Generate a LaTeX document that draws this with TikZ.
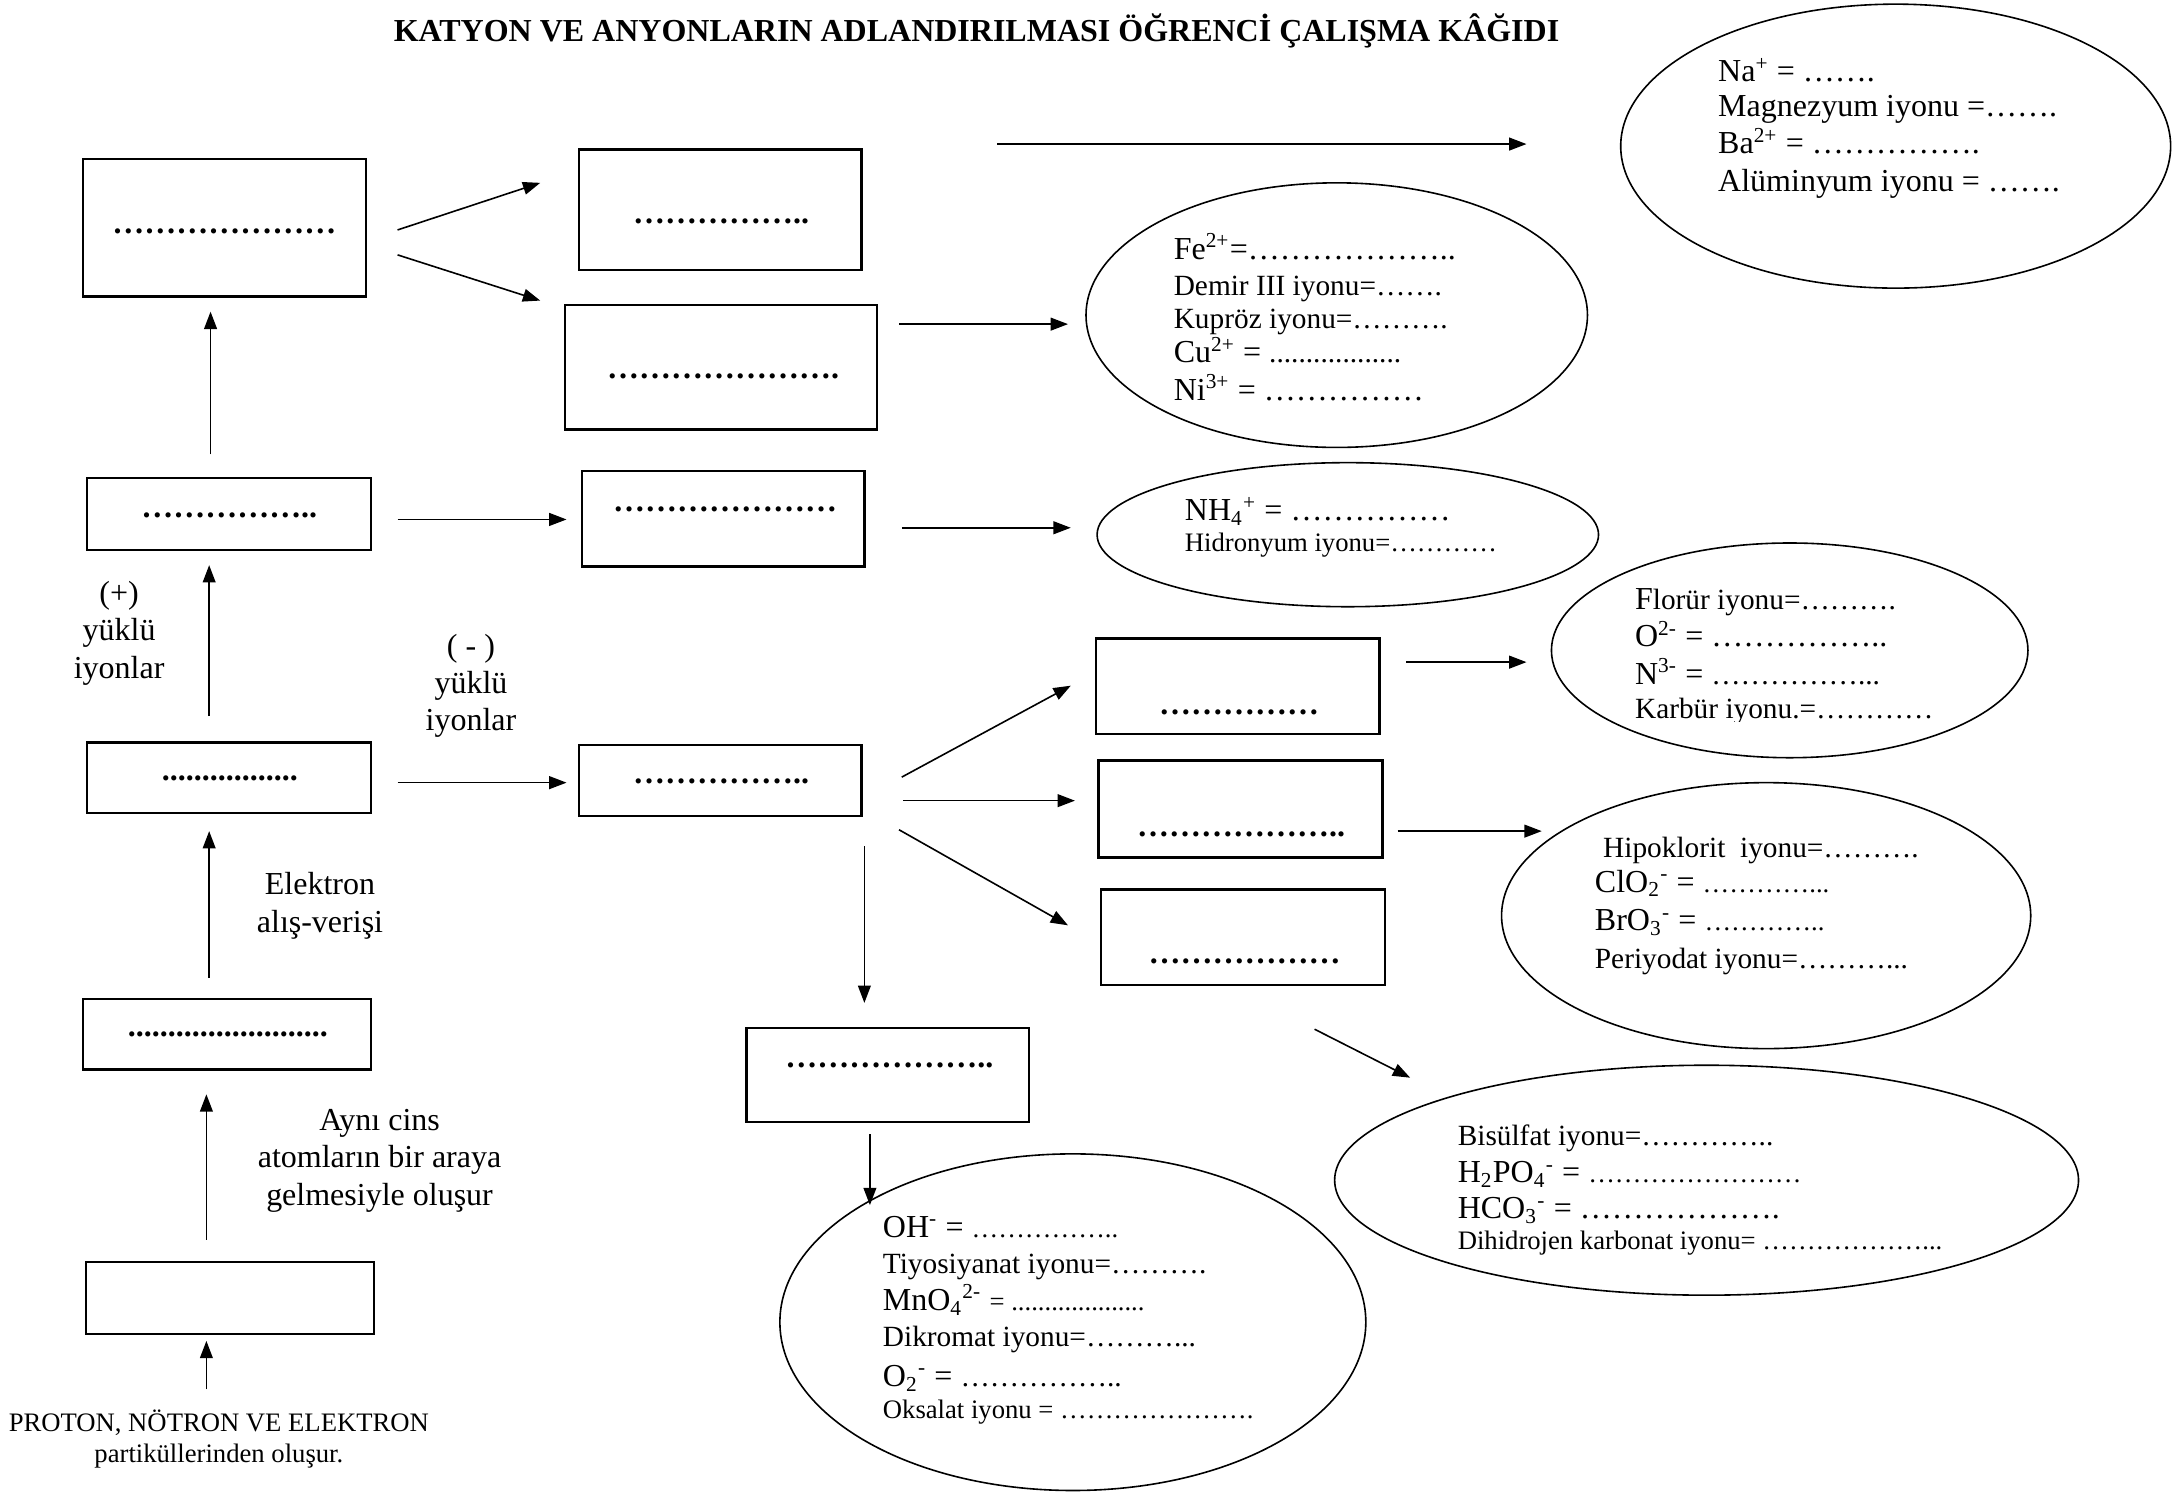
\documentclass[tikz,border=0pt]{standalone}
\usepackage{fontspec}
\setmainfont{Liberation Serif}
\usetikzlibrary{arrows.meta,shapes.geometric}
\newcommand\pxu{0.5195pt}
\newcommand\szL{\fontsize{12}{14}\selectfont}
\newcommand\szM{\fontsize{11}{13}\selectfont}
\newcommand\szS{\fontsize{10}{11.5}\selectfont}
\newcount\elpcnt
\newcommand\elps[1]{\elpcnt=#1\relax\elpsloop}
\newcommand\elpsloop{\ifnum\elpcnt>0 …\advance\elpcnt by -1\relax\expandafter\elpsloop\fi}
\newcommand\pds[1]{\elpcnt=#1\relax\pdsloop}
\newcommand\pdsloop{\ifnum\elpcnt>0 .\advance\elpcnt by -1\relax\expandafter\pdsloop\fi}
\begin{document}
\begin{tikzpicture}[x=0.5195pt,y=-0.5195pt,
  box/.style={draw, line width=0.9pt, inner sep=0pt},
  ell/.style={draw, ellipse, line width=0.6pt, inner sep=0pt},
  arr/.style={-{Triangle[length=6.5pt,width=4.8pt]}, line width=0.6pt},
  dotsty/.style={inner sep=0pt, font=\szL\bfseries},
  txt/.style={inner sep=0pt, anchor=base west},
  lbl/.style={inner sep=0pt, align=center, font=\szL}]
\path[fill=white] (0,0) rectangle (1568,1077);
\useasboundingbox (0,0) rectangle (1568,1077);

% title
\node[font=\szL\bfseries, inner sep=0pt] (title) at (705,22) {KATYON VE ANYONLARIN ADLANDIRILMASI ÖĞRENCİ ÇALIŞMA KÂĞIDI};

% left column boxes
\node[box, minimum width=204*\pxu, minimum height=99*\pxu] (L1) at (162,164.5) {};
\node[box, minimum width=205*\pxu, minimum height=52*\pxu] (L2) at (165.5,371) {};
\node[box, minimum width=205*\pxu, minimum height=51*\pxu] (L3) at (165.5,561.5) {};
\node[box, minimum width=208*\pxu, minimum height=51*\pxu] (L4) at (164,746.5) {};
\node[box, minimum width=208*\pxu, minimum height=52*\pxu] (L5) at (166,937) {};
% middle column boxes
\node[box, minimum width=204*\pxu, minimum height=87*\pxu] (M1) at (520,151.5) {};
\node[box, minimum width=225*\pxu, minimum height=90*\pxu] (M2) at (520.5,265) {};
\node[box, minimum width=204*\pxu, minimum height=69*\pxu] (M3) at (522,374.5) {};
\node[box, minimum width=204*\pxu, minimum height=51*\pxu] (M4) at (520,563.5) {};
\node[box, minimum width=204*\pxu, minimum height=68*\pxu] (M5) at (641,776) {};
% anion boxes
\node[box, minimum width=205*\pxu, minimum height=69*\pxu] (A1) at (893.5,495.5) {};
\node[box, minimum width=205*\pxu, minimum height=70*\pxu] (A2) at (895.5,584) {};
\node[box, minimum width=205*\pxu, minimum height=69*\pxu] (A3) at (897.5,676.5) {};

% dots in boxes
\node[dotsty] (L1t) at (162,167) {\elps{7}};
\node[dotsty] (L2t) at (165.5,372) {\elps{5}..};
\node[dotsty] (L3t) at (166,562) {\pds{17}};
\node[dotsty] (L4t) at (164.5,747) {\pds{25}};
\node[dotsty] (M1t) at (520.5,160) {\elps{5}..};
\node[dotsty] (M2t) at (522,272) {\elps{7}.};
\node[dotsty] (M3t) at (523.5,368) {\elps{7}};
\node[dotsty] (M4t) at (520.5,564) {\elps{5}..};
\node[dotsty] (M5t) at (642,769) {\elps{6}..};
\node[dotsty] (A1t) at (894.5,514) {\elps{5}};
\node[dotsty] (A2t) at (896,602) {\elps{6}..};
\node[dotsty] (A3t) at (898.5,694) {\elps{6}};

% ellipses
\node[ell, minimum width=397*\pxu, minimum height=205*\pxu] (ENa) at (1368.5,105.5) {};
\node[ell, minimum width=362*\pxu, minimum height=191*\pxu] (EFe) at (965,227.5) {};
\node[ell, minimum width=362*\pxu, minimum height=104*\pxu] (ENH) at (973,386) {};
\node[ell, minimum width=344*\pxu, minimum height=155*\pxu] (EF) at (1292,469.5) {};
\node[ell, minimum width=382*\pxu, minimum height=192*\pxu] (EHi) at (1275,661) {};
\node[ell, minimum width=537*\pxu, minimum height=166*\pxu] (EBi) at (1232,852) {};
\node[ell, minimum width=423*\pxu, minimum height=243*\pxu] (EOH) at (774.5,954.5) {};

% Na ellipse text
\node[txt, font=\szL] (na1) at (1240,59) {Na\textsuperscript{+} = \elps{2}.};
\node[txt, font=\szL] (na2) at (1240,84) {Magnezyum iyonu =\elps{2}.};
\node[txt, font=\szL] (na3) at (1240,111) {Ba\textsuperscript{2+} = \elps{5}.};
\node[txt, font=\szL] (na4) at (1240,138) {Alüminyum iyonu = \elps{2}.};
% Fe ellipse text
\node[txt, font=\szL] (fe1) at (847,187) {Fe\textsuperscript{2+}=\elps{6}..};
\node[txt, font=\szM] (fe2) at (847,213) {Demir III iyonu=\elps{2}.};
\node[txt, font=\szM] (fe3) at (847,237) {Kupröz iyonu=\elps{3}.};
\node[txt, font=\szL] (fe4) at (847,262) {Cu\textsuperscript{2+} = {\szM\pds{18}}};
\node[txt, font=\szL] (fe5) at (847,289) {Ni\textsuperscript{3+} = \elps{5}};
% NH4 ellipse text
\node[txt, font=\szL] (nh1) at (855,376) {NH\textsubscript{4}\textsuperscript{+} = \elps{5}};
\node[txt, font=\szS] (nh2) at (855,398) {Hidronyum iyonu=\elps{4}};
% F ellipse text
\node[txt, font=\szM] (f1) at (1180,440) {{\szL F}lorür iyonu=\elps{3}.};
\node[txt, font=\szL] (f2) at (1180,467) {O\textsuperscript{2-} = \elps{5}..};
\node[txt, font=\szL] (f3) at (1180,494) {N\textsuperscript{3-} = {\szM\elps{5}...}};
\begin{scope}
\clip (1150,500) rectangle (1420,520.5);
\node[txt, font=\szM] (f4) at (1180,519) {Karbür iyonu.=\elps{4}};
\end{scope}
% Hipoklorit ellipse text
\node[txt, font=\szM] (h1) at (1157,619) {Hipoklorit\ \ iyonu=\elps{3}.};
\node[txt, font=\szL] (h2) at (1151,644) {ClO\textsubscript{2}\textsuperscript{-} = {\szS\elps{4}...}};
\node[txt, font=\szL] (h3) at (1151,672) {BrO\textsubscript{3}\textsuperscript{-} = {\szS\elps{4}..}};
\node[txt, font=\szM] (h4) at (1151,699) {Periyodat iyonu=\elps{3}...};
% Bisulfat ellipse text
\node[txt, font=\szM] (b1) at (1052,827) {Bisülfat iyonu=\elps{4}..};
\node[txt, font=\szL] (b2) at (1052,854) {H\textsubscript{2}PO\textsubscript{4}\textsuperscript{-} = {\szS\elps{8}}};
\node[txt, font=\szL] (b3) at (1052,880) {HCO\textsubscript{3}\textsuperscript{-} = \elps{6}.};
\node[txt, font=\szS] (b4) at (1052,902) {Dihidrojen karbonat iyonu= \elps{6}...};
% OH ellipse text
\node[txt, font=\szL] (o1) at (637,893) {OH\textsuperscript{-} = {\szS\elps{5}..}};
\node[txt, font=\szM] (o2) at (637,919) {Tiyosiyanat iyonu=\elps{3}.};
\node[txt, font=\szL] (o3) at (637,946) {MnO\textsubscript{4}\textsuperscript{2-} {\szS = \pds{20}}};
\node[txt, font=\szM] (o4) at (637,972) {Dikromat iyonu=\elps{3}...};
\node[txt, font=\szL] (o5) at (637,1001) {O\textsubscript{2}\textsuperscript{-} = {\szM\elps{5}..}};
\node[txt, font=\szS] (o6) at (637,1024) {Oksalat iyonu = \elps{7}.};

% labels
\node[lbl] (lp) at (86,457) {(+)\\yüklü\\iyonlar};
\node[lbl] (ln) at (340,495) {( - )\\yüklü\\iyonlar};
\node[lbl] (le) at (231,654) {Elektron\\alış-verişi};
\node[lbl] (la) at (274,838) {Aynı cins\\atomların bir araya\\gelmesiyle oluşur};
\node[lbl, font=\szS] (lb) at (158,1039) {PROTON, NÖTRON VE ELEKTRON\\partiküllerinden oluşur.};

% arrow endpoints
\coordinate (p1s) at (152,328);  \coordinate (p1e) at (152,225);
\coordinate (p2s) at (151,517);  \coordinate (p2e) at (151,408);
\coordinate (p3s) at (151,706);  \coordinate (p3e) at (151,600);
\coordinate (p4s) at (149,895);  \coordinate (p4e) at (149,790);
\coordinate (p5s) at (149,1003); \coordinate (p5e) at (149,968);
\coordinate (p6s) at (287,166);  \coordinate (p6e) at (390,132);
\coordinate (p7s) at (287,184);  \coordinate (p7e) at (390,217);
\coordinate (p8s) at (720,104);  \coordinate (p8e) at (1102,104);
\coordinate (p9s) at (649,234);  \coordinate (p9e) at (771,234);
\coordinate (p10s) at (287,375); \coordinate (p10e) at (409,375);
\coordinate (p11s) at (651,381); \coordinate (p11e) at (773,381);
\coordinate (p12s) at (287,565); \coordinate (p12e) at (409,565);
\coordinate (p13s) at (651,561); \coordinate (p13e) at (773,495);
\coordinate (p14s) at (652,578); \coordinate (p14e) at (776,578);
\coordinate (p15s) at (649,599); \coordinate (p15e) at (771,668);
\coordinate (p16s) at (624,611); \coordinate (p16e) at (624,724);
\coordinate (p17s) at (1015,478); \coordinate (p17e) at (1102,478);
\coordinate (p18s) at (1009,600); \coordinate (p18e) at (1113,600);
\coordinate (p19s) at (949,743); \coordinate (p19e) at (1018,778);
\coordinate (p20s) at (628,819); \coordinate (p20e) at (628,870);

\foreach \i in {1,...,20} {\draw[arr] (p\i s) -- (p\i e);}
\end{tikzpicture}
\end{document}
